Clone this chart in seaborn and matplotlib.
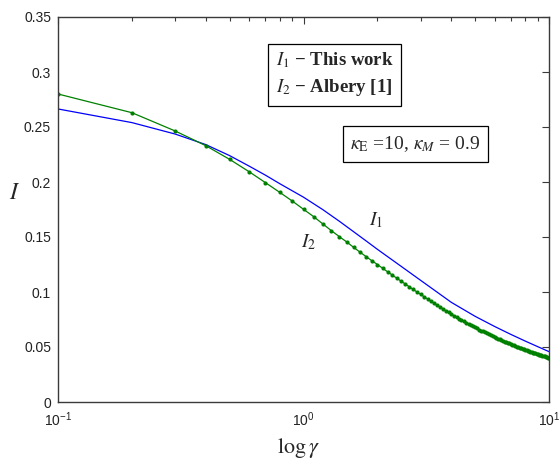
import numpy as np
import pandas as pd
import matplotlib
matplotlib.use("Agg")
import matplotlib.pyplot as plt
import seaborn as sns
from matplotlib.ticker import FuncFormatter, LogLocator

# ---- data ----
gamma_I2 = [round(0.1 * k, 1) for k in range(1, 101)]
I2_values = [
    0.2800, 0.2630, 0.2464, 0.2330, 0.2206, 0.2094, 0.1994, 0.1906, 0.1827, 0.1752,
    0.1685, 0.1618, 0.1557, 0.1503, 0.1455, 0.1406, 0.1362, 0.1321, 0.1284, 0.1250,
    0.1216, 0.1184, 0.1154, 0.1125, 0.1098, 0.1072, 0.1047, 0.1023, 0.1000, 0.0978,
    0.0957, 0.0937, 0.0917, 0.0898, 0.0880, 0.0863, 0.0846, 0.0830, 0.0815, 0.0800,
    0.0786, 0.0772, 0.0759, 0.0746, 0.0734, 0.0722, 0.0711, 0.0700, 0.0689, 0.0679,
    0.0669, 0.0659, 0.0650, 0.0641, 0.0632, 0.0623, 0.0615, 0.0607, 0.0599, 0.0591,
    0.0584, 0.0577, 0.0570, 0.0563, 0.0556, 0.0550, 0.0544, 0.0538, 0.0532, 0.0526,
    0.0520, 0.0515, 0.0509, 0.0504, 0.0499, 0.0494, 0.0489, 0.0484, 0.0479, 0.0475,
    0.0470, 0.0466, 0.0462, 0.0458, 0.0454, 0.0450, 0.0446, 0.0442, 0.0438, 0.0434,
    0.0431, 0.0427, 0.0424, 0.0420, 0.0417, 0.0414, 0.0410, 0.0407, 0.0404, 0.0400,
]
gamma_I1 = [0.1, 0.2, 0.3, 0.4, 0.5, 0.6, 0.7, 0.8, 0.9, 1.0, 1.2, 1.4, 1.6, 1.8,
            2.0, 2.5, 3.0, 3.5, 4.0, 5.0, 6.0, 7.0, 8.0, 9.0, 10.0]
I1_values = [0.2664, 0.2540, 0.2436, 0.2340, 0.2240, 0.2145, 0.2062, 0.1985, 0.1920,
             0.1862, 0.1748, 0.1643, 0.1548, 0.1464, 0.1388, 0.1233, 0.1106, 0.0999,
             0.0906, 0.0779, 0.0687, 0.0614, 0.0554, 0.0503, 0.0458]
y_ticks = [0, 0.05, 0.1, 0.15, 0.2, 0.25, 0.3, 0.35]

df1 = pd.DataFrame({"gamma": gamma_I1, "I": I1_values})
df2 = pd.DataFrame({"gamma": gamma_I2, "I": I2_values})

sns.set_style("white")
plt.rcParams["font.family"] = ["Liberation Sans", "DejaVu Sans"]
plt.rcParams["mathtext.fontset"] = "stix"

fig = plt.figure(figsize=(5.59, 4.63), dpi=100)
ax = fig.add_axes([58 / 559, 1 - 402 / 463, 491 / 559, 385 / 463])

sns.lineplot(data=df1, x="gamma", y="I", ax=ax, color="#0000ff", linewidth=0.9)
sns.lineplot(data=df2, x="gamma", y="I", ax=ax, color="#008000", linewidth=0.9,
             marker="o", markersize=3.0, markeredgewidth=0)

ax.set_xscale("log")
ax.set_xlim(0.1, 10)
ax.set_ylim(0, 0.35)
ax.set_yticks(y_ticks)
ax.yaxis.set_major_formatter(FuncFormatter(lambda v, p: f"{v:g}"))
ax.xaxis.set_major_locator(LogLocator(base=10, numticks=10))
ax.xaxis.set_minor_locator(LogLocator(base=10, subs=np.arange(2, 10), numticks=20))

spine_c = "#3a3a3a"
for s in ax.spines.values():
    s.set_visible(True)
    s.set_color(spine_c)
    s.set_linewidth(1.0)
ax.tick_params(which="both", direction="in", top=True, right=True, color=spine_c,
               width=0.8, labelcolor="#222222")
ax.tick_params(which="major", length=5, labelsize=10)
ax.tick_params(which="minor", length=3)
ax.tick_params(axis="x", pad=6)
ax.tick_params(axis="y", pad=5)

ax.set_xlabel(r"$\log\gamma$", fontsize=16)
ax.xaxis.set_label_coords(0.489, -0.088)
ax.set_ylabel(r"$I$", fontsize=17, rotation=0, va="center", ha="center")
ax.yaxis.set_label_coords(-0.088, 0.543)

ax.text(0.563, 0.852, "$I_1$ − This work\n$I_2$ − Albery [1]", transform=ax.transAxes,
        ha="center", va="center", family="Liberation Serif", fontsize=13.5,
        fontweight="bold", linespacing=1.5,
        bbox=dict(boxstyle="square,pad=0.4", fc="white", ec="black", lw=0.9))
ax.text(0.728, 0.670, r"$\kappa_{\mathrm{E}}$ =10, $\kappa_M$ = 0.9", transform=ax.transAxes,
        ha="center", va="center", family="Liberation Serif", fontsize=14,
        bbox=dict(boxstyle="square,pad=0.4", fc="white", ec="black", lw=0.9))
ax.text(0.648, 0.473, r"$I_1$", transform=ax.transAxes, ha="center", va="center",
        fontsize=14)
ax.text(0.511, 0.416, r"$I_2$", transform=ax.transAxes, ha="center", va="center",
        fontsize=14)

fig.savefig("out.png", dpi=100)
